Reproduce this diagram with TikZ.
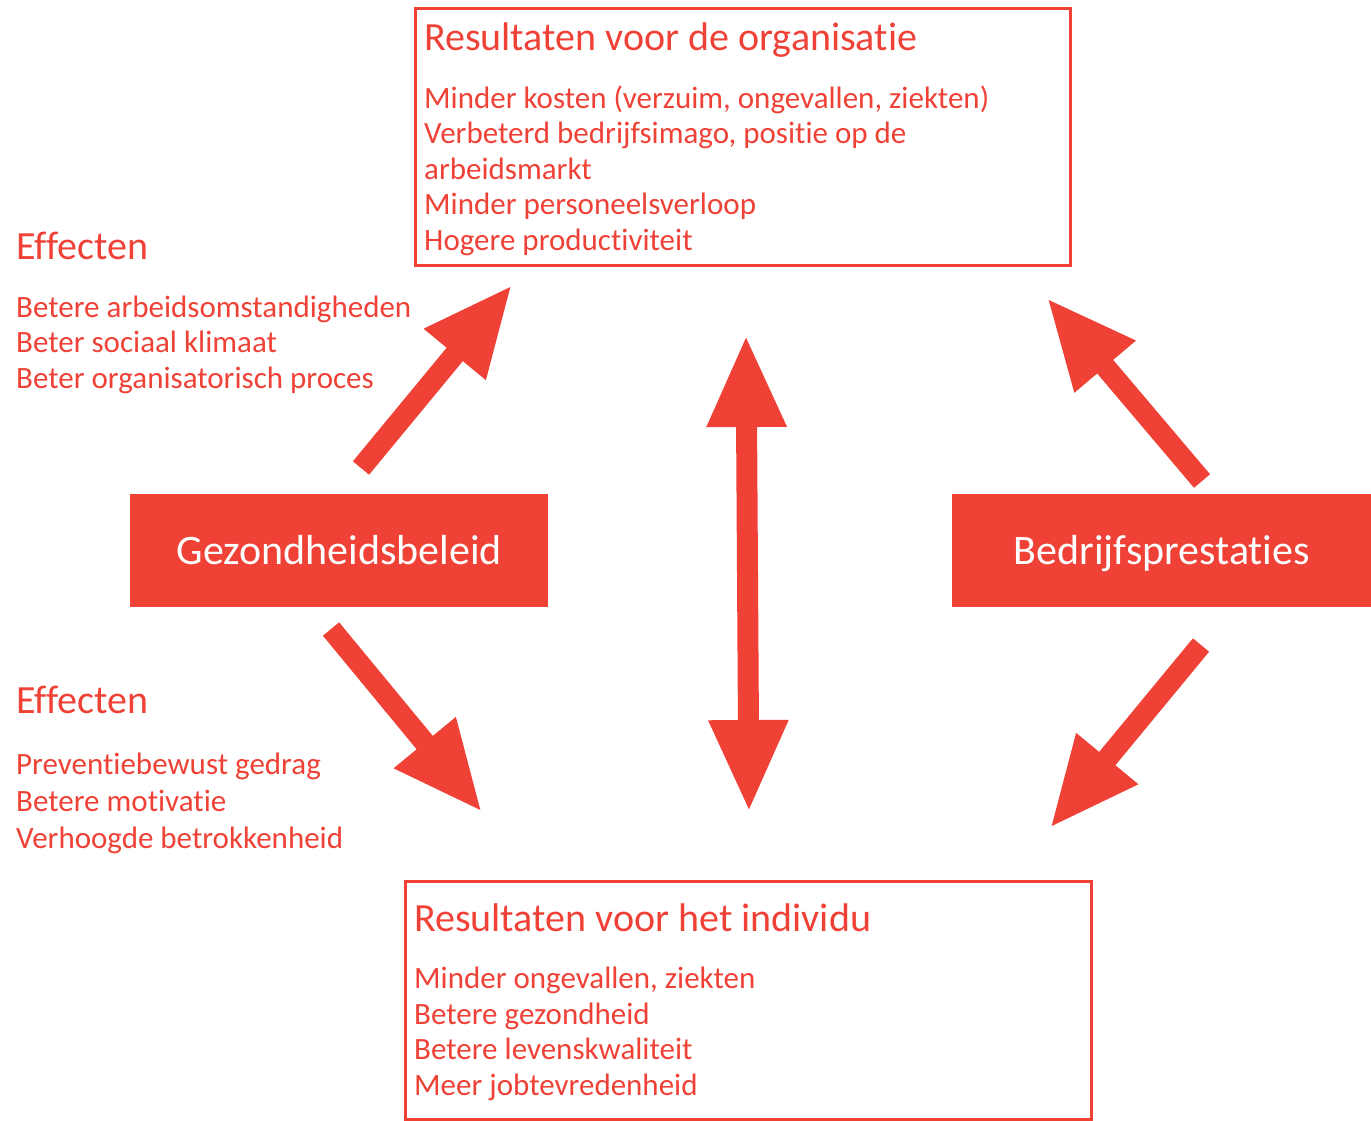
\documentclass[tikz,border=0pt]{standalone}
\usepackage{fontspec}
\setmainfont{Carlito}[Ligatures={NoCommon,NoRare,NoContextual}]
\usetikzlibrary{arrows.meta}
\definecolor{rd}{RGB}{239,65,54}
\begin{document}
\begin{tikzpicture}[x=1pt,y=-1pt,
  ttl/.style={anchor=base west,inner sep=0,text=rd,font=\fontsize{40}{40}\selectfont},
  body/.style={anchor=base west,inner sep=0,text=rd,align=left,font=\fontsize{31}{35.5}\selectfont},
  bodyb/.style={anchor=base west,inner sep=0,text=rd,align=left,font=\fontsize{31}{37}\selectfont},
  outbox/.style={draw=rd,line width=2.5pt},
  fillbox/.style={fill=rd,inner sep=0},
  boxtext/.style={anchor=base,text=white,font=\fontsize{42}{42}\selectfont,inner sep=0},
  bigarrow/.style={draw=rd,line width=21pt,-{Triangle[width=74pt,length=90pt,fill=rd]}},
  dblarrow/.style={draw=rd,line width=21pt,{Triangle[width=74pt,length=92pt,fill=rd]}-{Triangle[width=74pt,length=92pt,fill=rd]}}]
\useasboundingbox (0,0) rectangle (1371,1120);
% boxes
\node[outbox,minimum width=655pt,minimum height=257pt,anchor=north west] (org) at (414,7) {};
\node[outbox,minimum width=686pt,minimum height=238pt,anchor=north west] (ind) at (404,880) {};
\node[fillbox,minimum width=418pt,minimum height=113pt,anchor=north west] (gez) at (130,494) {};
\node[fillbox,minimum width=419pt,minimum height=113pt,anchor=north west] (bed) at (952,494) {};
\node[boxtext] (gezt) at ([yshift=-14pt]gez.center) {Gezondheidsbeleid};
\node[boxtext] (bedt) at ([yshift=-14pt]bed.center) {Bedrijfsprestaties};
% texts (multi-line nodes anchored at the baseline of their last line)
\node[ttl] (orgt) at (424,50) {Resultaten voor de organisatie};
\node[body] (orgb) at (424,250) {Minder kosten (verzuim, ongevallen, ziekten)\\Verbeterd bedrijfsimago, positie op de\\arbeidsmarkt\\Minder personeelsverloop\\Hogere productiviteit};
\node[ttl] (indt) at (414,931) {Resultaten voor het individu};
\node[body] (indb) at (414,1095) {Minder ongevallen, ziekten\\Betere gezondheid\\Betere levenskwaliteit\\Meer jobtevredenheid};
\node[ttl] (eff1) at (16,259) {Effecten};
\node[body] (eff1b) at (16,388) {Betere arbeidsomstandigheden\\Beter sociaal klimaat\\Beter organisatorisch proces};
\node[ttl] (eff2) at (16,713) {Effecten};
\node[bodyb] (eff2b) at (16,848) {Preventiebewust gedrag\\Betere motivatie\\Verhoogde betrokkenheid};
% arrows
\coordinate (a1s) at (361,468); \coordinate (a1e) at (512,285);
\coordinate (a2s) at (331,629); \coordinate (a2e) at (482,812);
\coordinate (a3s) at (1202,481); \coordinate (a3e) at (1047,298);
\coordinate (a4s) at (1201,645); \coordinate (a4e) at (1050,828);
\coordinate (a5s) at (746,335); \coordinate (a5e) at (749,812);
\draw[bigarrow] (a1s) -- (a1e);
\draw[bigarrow] (a2s) -- (a2e);
\draw[bigarrow] (a3s) -- (a3e);
\draw[bigarrow] (a4s) -- (a4e);
\draw[dblarrow] (a5s) -- (a5e);
\end{tikzpicture}
\end{document}
